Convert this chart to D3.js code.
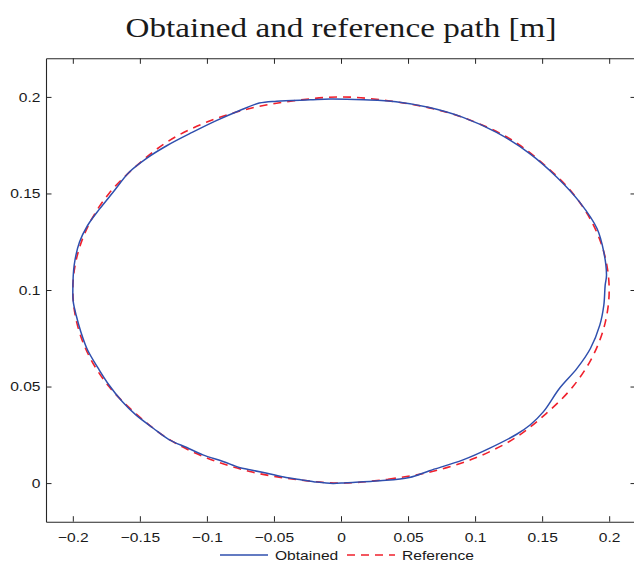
<!DOCTYPE html>
<html>
<head>
<meta charset="utf-8">
<script src="https://cdn.jsdelivr.net/npm/d3@7"></script>
<style>
  html, body { margin: 0; padding: 0; background: #fff; }
  svg { display: block; }
</style>
</head>
<body>
<svg id="chart" width="634" height="562"></svg>
<script>
// Reference path: the commanded ellipse (x in m, y in m)
const refX = [0, 0.035, 0.068, 0.100, 0.129, 0.153, 0.173, 0.188, 0.197,
              0.200, 0.197, 0.188, 0.173, 0.153, 0.129, 0.100, 0.068, 0.035,
              0, -0.035, -0.068, -0.100, -0.129, -0.153, -0.173, -0.188, -0.197,
              -0.200, -0.197, -0.188, -0.173, -0.153, -0.129, -0.100, -0.068, -0.035];
const refY = [0, 0.002, 0.006, 0.013, 0.023, 0.036, 0.050, 0.066, 0.083,
              0.100, 0.117, 0.134, 0.150, 0.164, 0.177, 0.187, 0.194, 0.198,
              0.200, 0.198, 0.194, 0.187, 0.177, 0.164, 0.150, 0.134, 0.117,
              0.100, 0.083, 0.066, 0.050, 0.036, 0.023, 0.013, 0.006, 0.002];

// Obtained path as measured by the robot
const obtX = [0.004, 0.029, 0.051, 0.066, 0.091, 0.111, 0.131, 0.141, 0.151, 0.163,
              0.176, 0.186, 0.193, 0.196, 0.197, 0.198, 0.196, 0.191, 0.178, 0.161,
              0.141, 0.116, 0.091, 0.066, 0.041, 0.017, -0.008, -0.023, -0.048, -0.061,
              -0.076, -0.093, -0.111, -0.130, -0.145, -0.158, -0.170, -0.180, -0.189, -0.195,
              -0.199, -0.200, -0.1997, -0.1975, -0.194, -0.189, -0.181, -0.173, -0.163, -0.153,
              -0.140, -0.128, -0.115, -0.103, -0.088, -0.076, -0.068, -0.056, -0.041, -0.031,
              -0.018, -0.006];
const obtY = [0.0002, 0.0012, 0.0029, 0.0064, 0.0120, 0.0181, 0.0253, 0.0301, 0.0370, 0.0491,
              0.0594, 0.0697, 0.0818, 0.0921, 0.1024, 0.1076, 0.1196, 0.1317, 0.1455, 0.1584,
              0.1705, 0.1816, 0.1894, 0.1945, 0.1975, 0.1985, 0.1989, 0.1985, 0.1978, 0.1968,
              0.1928, 0.1877, 0.1816, 0.1747, 0.1682, 0.1610, 0.1506, 0.1420, 0.1334, 0.1248,
              0.1128, 0.0990, 0.0940, 0.0869, 0.0783, 0.0689, 0.0594, 0.0508, 0.0421, 0.0353,
              0.0284, 0.0224, 0.0184, 0.0146, 0.0112, 0.0081, 0.0069, 0.0052, 0.0029, 0.0019,
              0.0005, -0.0002];

const xTicks = [-0.2, -0.15, -0.1, -0.05, 0, 0.05, 0.1, 0.15, 0.2];
const yTicks = [0, 0.05, 0.1, 0.15, 0.2];
const xDomain = [-0.22, 0.22];
const yDomain = [-0.02, 0.22];

const seriesNames = ["Obtained", "Reference"];
const titleText = "Obtained and reference path [m]";

const blue = "#2f4fae";
const red = "#f0202c";
const axisColor = "#262626";
const stretch = 1.2;   // horizontal stretch of the sans-serif labels

const svg = d3.select("#chart");
const plotLeft = 46, plotTop = 58.3, plotRight = 636, plotBottom = 521.7;

const x = d3.scaleLinear().domain(xDomain).range([plotLeft, plotRight]);
const y = d3.scaleLinear().domain(yDomain).range([plotBottom, plotTop]);

const fmt = v => (v < 0 ? "\u2212" : "") + String(Math.abs(v));

// Axes on all four sides, ticks pointing inward
function styleAxis(g) {
  g.select(".domain").attr("stroke", axisColor).attr("stroke-width", 1.1);
  g.selectAll(".tick line").attr("stroke", axisColor).attr("stroke-width", 1);
  g.selectAll("text").attr("fill", "#1a1a1a")
    .style("font-family", "'Liberation Sans', Arial, sans-serif")
    .style("font-size", "13px");
}

const gx = svg.append("g").attr("transform", `translate(0,${plotBottom})`)
  .call(d3.axisBottom(x).tickValues(xTicks).tickFormat(fmt).tickSize(-5.5).tickSizeOuter(0))
  .call(styleAxis);
gx.selectAll(".tick text").attr("y", 0).attr("dy", 0)
  .attr("transform", `translate(0,20) scale(${stretch},1)`);

const gy = svg.append("g").attr("transform", `translate(${plotLeft},0)`)
  .call(d3.axisLeft(y).tickValues(yTicks).tickFormat(fmt).tickSize(-5.5).tickSizeOuter(0))
  .call(styleAxis);
gy.selectAll(".tick text").attr("x", 0).attr("dy", "0.34em")
  .attr("transform", `translate(-5.5,0) scale(${stretch},1)`);

svg.append("g").attr("transform", `translate(0,${plotTop})`)
  .call(d3.axisTop(x).tickValues(xTicks).tickFormat("").tickSize(-5.5).tickSizeOuter(0))
  .call(styleAxis);

svg.append("g").attr("transform", `translate(${plotRight},0)`)
  .call(d3.axisRight(y).tickValues(yTicks).tickFormat("").tickSize(-5.5).tickSizeOuter(0))
  .call(styleAxis);

// Paths
const line = d3.line().x(d => x(d[0])).y(d => y(d[1])).curve(d3.curveCatmullRomClosed.alpha(0.5));
const refPts = refX.map((v, i) => [v, refY[i]]);
const obtPts = obtX.map((v, i) => [v, obtY[i]]);

svg.append("path").datum(refPts).attr("d", line)
  .attr("fill", "none").attr("stroke", red).attr("stroke-width", 1.6)
  .attr("stroke-dasharray", "8,6");

svg.append("path").datum(obtPts).attr("d", line)
  .attr("fill", "none").attr("stroke", blue).attr("stroke-width", 1.5);

// Title, stretched to the same width as the serif heading it reproduces
const titleWidth = 431;
const title = svg.append("text").attr("text-anchor", "middle")
  .style("font-family", "'Liberation Serif', 'Times New Roman', serif")
  .style("font-size", "27px").attr("fill", "#1a1a1a")
  .text(titleText);
const tScale = titleWidth / title.node().getComputedTextLength();
title.attr("transform", `translate(${(plotLeft + plotRight) / 2},36.5) scale(${tScale},1)`);

// Legend below the axes
const legY = 555;
const leg = svg.append("g");
const legItems = [
  { name: seriesNames[0], color: blue, dash: null, x0: 220 },
  { name: seriesNames[1], color: red, dash: "8,6", x0: 347 }
];
legItems.forEach(it => {
  leg.append("line").attr("x1", it.x0).attr("x2", it.x0 + 48)
    .attr("y1", legY).attr("y2", legY)
    .attr("stroke", it.color).attr("stroke-width", 1.6)
    .attr("stroke-dasharray", it.dash);
  leg.append("text")
    .attr("transform", `translate(${it.x0 + 55},${legY + 5}) scale(${stretch},1)`)
    .style("font-family", "'Liberation Sans', Arial, sans-serif")
    .style("font-size", "13px").attr("fill", "#1a1a1a")
    .text(it.name);
});
</script>
</body>
</html>
